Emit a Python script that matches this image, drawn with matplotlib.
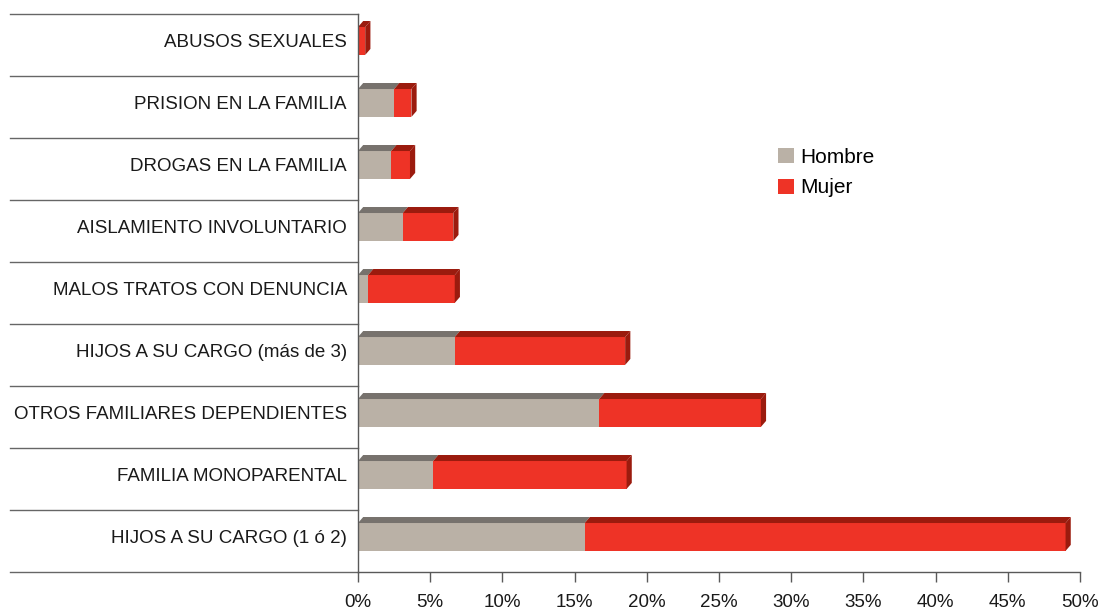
import matplotlib
matplotlib.use("Agg")
import matplotlib.pyplot as plt
from matplotlib.patches import Polygon, Patch

plt.rcParams["font.family"] = ["Liberation Sans", "DejaVu Sans"]

categories = ["HIJOS A SU CARGO (1 ó 2)", "FAMILIA MONOPARENTAL", "OTROS FAMILIARES DEPENDIENTES",
              "HIJOS A SU CARGO (más de 3)", "MALOS TRATOS CON DENUNCIA", "AISLAMIENTO INVOLUNTARIO",
              "DROGAS EN LA FAMILIA", "PRISION EN LA FAMILIA", "ABUSOS SEXUALES"]
hombre = [15.7, 5.2, 16.7, 6.7, 0.7, 3.1, 2.3, 2.5, 0.0]
mujer = [33.3, 13.4, 11.2, 11.8, 6.0, 3.5, 1.3, 1.2, 0.5]
xticks = [0, 5, 10, 15, 20, 25, 30, 35, 40, 45, 50]
xticklabels = [f"{t}%" for t in xticks]

c_h_front, c_h_top = "#BAB1A6", "#77726D"
c_m_front, c_m_top, c_m_side = "#EE3326", "#9B1B0E", "#9B1B0E"

fig = plt.figure(figsize=(11, 6.1), dpi=100)
ax = fig.add_axes([358/1100, 1-572/610, (1080-358)/1100, (572-14)/610])
ax.set_xlim(0, 50)
ax.set_ylim(-0.5, 8.5)

h = 0.45          # front face height
dy = 0.097        # depth up (data units)
dx = 0.36         # depth right (percent units)
yoff = 0.065      # front face center offset

for i, (hv, mv) in enumerate(zip(hombre, mujer)):
    yc = i + yoff
    b, t = yc - h/2, yc + h/2
    segs = [(0, hv, c_h_front, c_h_top), (hv, hv + mv, c_m_front, c_m_top)]
    for (l, r, cf, ct) in segs:
        if r - l <= 0:
            continue
        ax.barh(yc, r - l, left=l, height=h, color=cf, zorder=3, linewidth=0)
        ax.add_patch(Polygon([(l, t), (l + dx, t + dy), (r + dx, t + dy), (r, t)],
                             closed=True, facecolor=ct, edgecolor="none", zorder=3))
    tot = hv + mv
    ax.add_patch(Polygon([(tot, b), (tot, t), (tot + dx, t + dy), (tot + dx, b + dy)],
                         closed=True, facecolor=c_m_side, edgecolor="none", zorder=3))

# category separators
ytr = ax.get_yaxis_transform()
xleft = (10 - 358) / (1080 - 358)
for k in range(len(categories) + 1):
    ax.plot([xleft, 0], [k - 0.5, k - 0.5], transform=ytr, color="#666666",
            linewidth=1.0, clip_on=False, zorder=1)

ax.set_yticks([i + yoff for i in range(len(categories))])
ax.set_yticklabels(categories, fontsize=13.5, color="#1a1a1a")
ax.tick_params(axis="y", length=0, pad=8)

ax.set_xticks(xticks)
ax.set_xticklabels(xticklabels, fontsize=13.5, color="#1a1a1a")
ax.tick_params(axis="x", length=7.5, width=1.0, color="#595959", pad=8)

for s in ["top", "right"]:
    ax.spines[s].set_visible(False)
for s in ["left", "bottom"]:
    ax.spines[s].set_color("#595959")
    ax.spines[s].set_linewidth(1.0)
    ax.spines[s].set_zorder(4)

handles = [Patch(facecolor=c_h_front, edgecolor="none"), Patch(facecolor=c_m_front, edgecolor="none")]
fig.legend(handles, ["Hombre", "Mujer"], loc="upper left", bbox_to_anchor=(778/1100, 1-148/610),
           frameon=False, fontsize=15, handlelength=0.75, handleheight=0.75, handletextpad=0.3,
           labelspacing=0.55, borderaxespad=0, borderpad=0)

fig.savefig("out.png", dpi=100)
